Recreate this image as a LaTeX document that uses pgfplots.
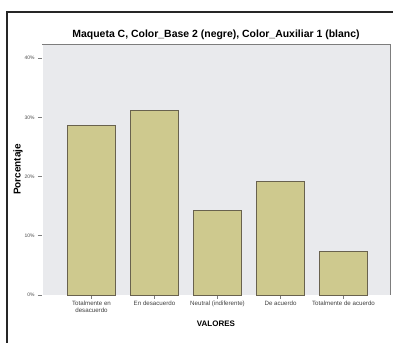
\documentclass[border=0pt]{standalone}
\usepackage{fontspec}
\setmainfont{Liberation Sans}
\usepackage{pgfplots}
\pgfplotsset{compat=1.18}
\definecolor{barfill}{RGB}{206,201,142}
\definecolor{baredge}{RGB}{105,98,78}
\definecolor{plotbg}{RGB}{233,234,237}
\definecolor{axisgray}{RGB}{125,125,125}
\begin{document}
\begin{tikzpicture}[x=1bp,y=1bp]
\useasboundingbox (0,0) rectangle (393,343);
\draw[line width=1.2bp, black!85] (7,0) -- (7,331) -- (393,331);
\begin{axis}[
  at={(42bp,48bp)}, anchor=south west,
  scale only axis, width=348bp, height=251bp,
  xmin=-0.786, xmax=4.738, ymin=0, ymax=42.4,
  axis background/.style={fill=plotbg},
  axis line style={axisgray, line width=0.8bp},
  axis x line*=bottom, axis y line*=left,
  xtick=data,
  xticklabels={{Totalmente en\\desacuerdo},{En desacuerdo},{Neutral (indiferente)},{De acuerdo},{Totalmente de acuerdo}},
  xticklabel style={font=\fontsize{6.2}{6.6}\selectfont, align=center, text=black!75, yshift=1bp},
  ytick={0,10,20,30,40},
  yticklabels={0\%,10\%,20\%,30\%,40\%},
  yticklabel style={font=\fontsize{5}{5.5}\selectfont, text=black!70},
  /pgf/number format/assume math mode=true,
  tick align=outside, tick style={axisgray, line width=0.8bp},
  major tick length=4bp,
  clip=false,
]
\draw[white, line width=0.6bp] (rel axis cs:0,0) rectangle (rel axis cs:1,1);
\draw[axisgray, line width=0.8bp] (rel axis cs:0,1) -- (rel axis cs:1,1) -- (rel axis cs:1,0);
\addplot[ybar, bar width=48bp, fill=barfill, draw=baredge, line width=0.9bp]
  coordinates {(0,28.7) (1,31.1) (2,14.3) (3,19.2) (4,7.3)};
\node[font=\fontsize{10.5}{11}\selectfont\bfseries, anchor=south] at (rel axis cs:0.5,1) [yshift=1bp] {Maqueta C, Color\_Base 2 (negre), Color\_Auxiliar 1 (blanc)};
\node[font=\fontsize{10}{11}\selectfont\bfseries, rotate=90] at (axis cs:-1.167,21.2) {Porcentaje};
\node[font=\fontsize{8}{9}\selectfont\bfseries] at (axis cs:1.975,-4.9) {VALORES};
\end{axis}
\end{tikzpicture}
\end{document}
